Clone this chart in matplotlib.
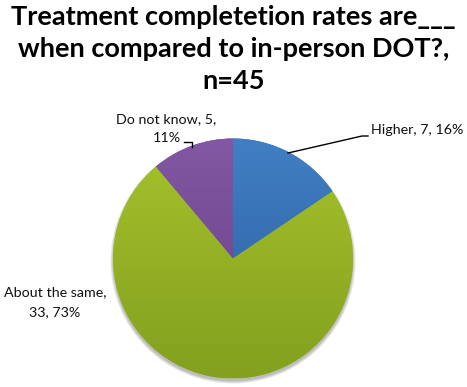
import numpy as np
import matplotlib
matplotlib.use("Agg")
import matplotlib.pyplot as plt
from matplotlib.colors import LinearSegmentedColormap
from matplotlib.patches import Circle

# survey answers, n=45
categories = ["Higher", "About the same", "Do not know"]
counts = [7, 33, 5]
percents = [16, 73, 11]
# top / bottom shade of each slice (gradient fill like the original)
top_colors = ["#417fc4", "#a6c22c", "#8257a3"]
bottom_colors = ["#2a5c9c", "#83a01f", "#653f84"]

W, H = 467, 387
fig = plt.figure(figsize=(W / 100, H / 100), dpi=100)
ax = fig.add_axes([0, 0, 1, 1])

def Y(y):
    # pixel rows from the top -> data y
    return H - y

cx, cy, r = 233, Y(258.5), 120

# soft shadow under the pie
for i in range(8):
    ax.add_patch(Circle((cx, cy - 2.5), r + 0.4 * i, color="k",
                        alpha=0.035, lw=0, zorder=0))

wedges, _ = ax.pie(counts, startangle=90, counterclock=False,
                   center=(cx, cy), radius=r, colors=top_colors,
                   wedgeprops=dict(lw=0), frame=True)
ax.set_xlim(0, W)
ax.set_ylim(0, H)
ax.set_aspect("equal")
ax.axis("off")

grad = np.linspace(0, 1, 256).reshape(-1, 1)
for w, c1, c2 in zip(wedges, top_colors, bottom_colors):
    cmap = LinearSegmentedColormap.from_list("g", [c2, c1])
    im = ax.imshow(grad, cmap=cmap, origin="lower", aspect="auto",
                   extent=[cx - r, cx + r, cy - r, cy + r], zorder=2)
    im.set_clip_path(w)

labels = [f"{c}, {n}, {p}%" for c, n, p in zip(categories, counts, percents)]
font = dict(family=["Lato", "DejaVu Sans"], fontsize=10.3, color="#111111")

# Higher
ax.text(371, Y(130), labels[0], ha="left", va="center", **font)
ax.plot([288, 362, 368], [Y(153), Y(136), Y(136)], color="k", lw=1, zorder=3)

# About the same
ax.text(55, Y(302), f"{categories[1]},\n{counts[1]}, {percents[1]}%",
        ha="center", va="center", linespacing=1.75, **font)

# Do not know
ax.text(166.5, Y(128.5), f"{categories[2]}, {counts[2]},\n{percents[2]}%",
        ha="center", va="center", linespacing=1.75, **font)
ax.plot([184, 192, 192], [Y(142), Y(142), Y(147)], color="k", lw=1, zorder=3)

fig.text(0.5, 1 - 49 / H,
         "Treatment completetion rates are___\nwhen compared to in-person DOT?,\nn=45",
         ha="center", va="center", fontsize=19.5, fontweight="bold",
         family=["Lato", "DejaVu Sans"], linespacing=1.38)

fig.savefig("out.png", dpi=100)
